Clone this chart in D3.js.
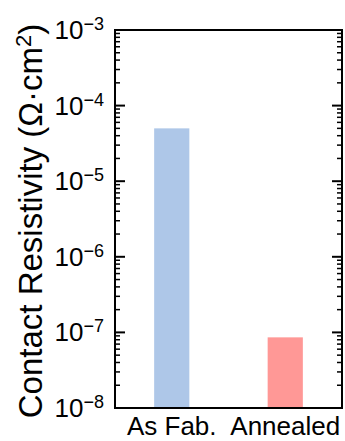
<!DOCTYPE html>
<html>
<head>
<meta charset="utf-8">
<script src="https://cdn.jsdelivr.net/npm/d3@7"></script>
<style>
  html, body { margin: 0; padding: 0; background: #fff; }
  svg { display: block; font-family: "Liberation Sans", Arial, sans-serif; }
</style>
</head>
<body>
<svg id="chart" width="345" height="441"></svg>
<script>
// ========= Data =========
const categories = ["As Fab.", "Annealed"];
const values = [5.0e-5, 8.6e-8];
const colors = ["#aec7e8", "#ff9896"];
const yDomain = [1e-8, 1e-3];
const decades = [-8, -7, -6, -5, -4, -3];

// ========= Layout =========
const width = 345, height = 441;
const margin = { top: 30, right: 3, bottom: 33, left: 115 };
const svg = d3.select("#chart");
const innerW = width - margin.left - margin.right;
const innerH = height - margin.top - margin.bottom;

const x = d3.scaleBand()
  .domain(categories)
  .range([0, innerW])
  .paddingInner(0.69)
  .paddingOuter(0.345);

const y = d3.scaleLog()
  .domain(yDomain)
  .range([innerH, 0]);

const g = svg.append("g")
  .attr("transform", `translate(${margin.left},${margin.top})`);

// Bars
g.selectAll("rect.bar")
  .data(categories.map((c, i) => ({ cat: c, value: values[i], color: colors[i] })))
  .join("rect")
  .attr("class", "bar")
  .attr("x", d => x(d.cat))
  .attr("y", d => y(d.value))
  .attr("width", x.bandwidth())
  .attr("height", d => innerH - y(d.value))
  .attr("fill", d => d.color);

// Ticks (inward, both sides)
const minorVals = [];
decades.slice(0, -1).forEach(p => {
  for (let k = 2; k <= 9; k++) minorVals.push(k * Math.pow(10, p));
});
const majorVals = decades.map(p => Math.pow(10, p));

function drawTicks(side) {
  const x0 = side === "left" ? 0 : innerW;
  const dir = side === "left" ? 1 : -1;
  g.append("g").selectAll("line")
    .data(minorVals)
    .join("line")
    .attr("x1", x0).attr("x2", x0 + dir * 5)
    .attr("y1", d => y(d)).attr("y2", d => y(d))
    .attr("stroke", "#000").attr("stroke-width", 1.5);
  g.append("g").selectAll("line")
    .data(majorVals)
    .join("line")
    .attr("x1", x0).attr("x2", x0 + dir * 10)
    .attr("y1", d => y(d)).attr("y2", d => y(d))
    .attr("stroke", "#000").attr("stroke-width", 2);
}
drawTicks("left");
drawTicks("right");

// Frame
g.append("rect")
  .attr("x", 0).attr("y", 0)
  .attr("width", innerW).attr("height", innerH)
  .attr("fill", "none")
  .attr("stroke", "#000")
  .attr("stroke-width", 2);

// Y tick labels 10^n
const yLabels = g.append("g").selectAll("text")
  .data(decades)
  .join("text")
  .attr("x", -11)
  .attr("y", d => y(Math.pow(10, d)) + 9)
  .attr("text-anchor", "end")
  .attr("font-size", 26)
  .attr("fill", "#000");
yLabels.append("tspan").text("10");
yLabels.append("tspan")
  .attr("dy", -9)
  .attr("font-size", 18)
  .text(d => "\u2212" + Math.abs(d));

// X labels
g.append("g").selectAll("text")
  .data(categories)
  .join("text")
  .attr("x", d => x(d) + x.bandwidth() / 2)
  .attr("y", innerH + 27)
  .attr("text-anchor", "middle")
  .attr("font-size", 26)
  .attr("fill", "#000")
  .text(d => d);

// Y axis title
const title = svg.append("text")
  .attr("transform", `translate(42,${margin.top + innerH / 2 + 2}) rotate(-90)`)
  .attr("text-anchor", "middle")
  .attr("font-size", 33)
  .attr("fill", "#000");
title.append("tspan").text("Contact Resistivity (\u03A9\u00B7cm");
title.append("tspan").attr("dy", -11).attr("font-size", 22).text("2");
title.append("tspan").attr("dy", 11).text(")");
</script>
</body>
</html>
